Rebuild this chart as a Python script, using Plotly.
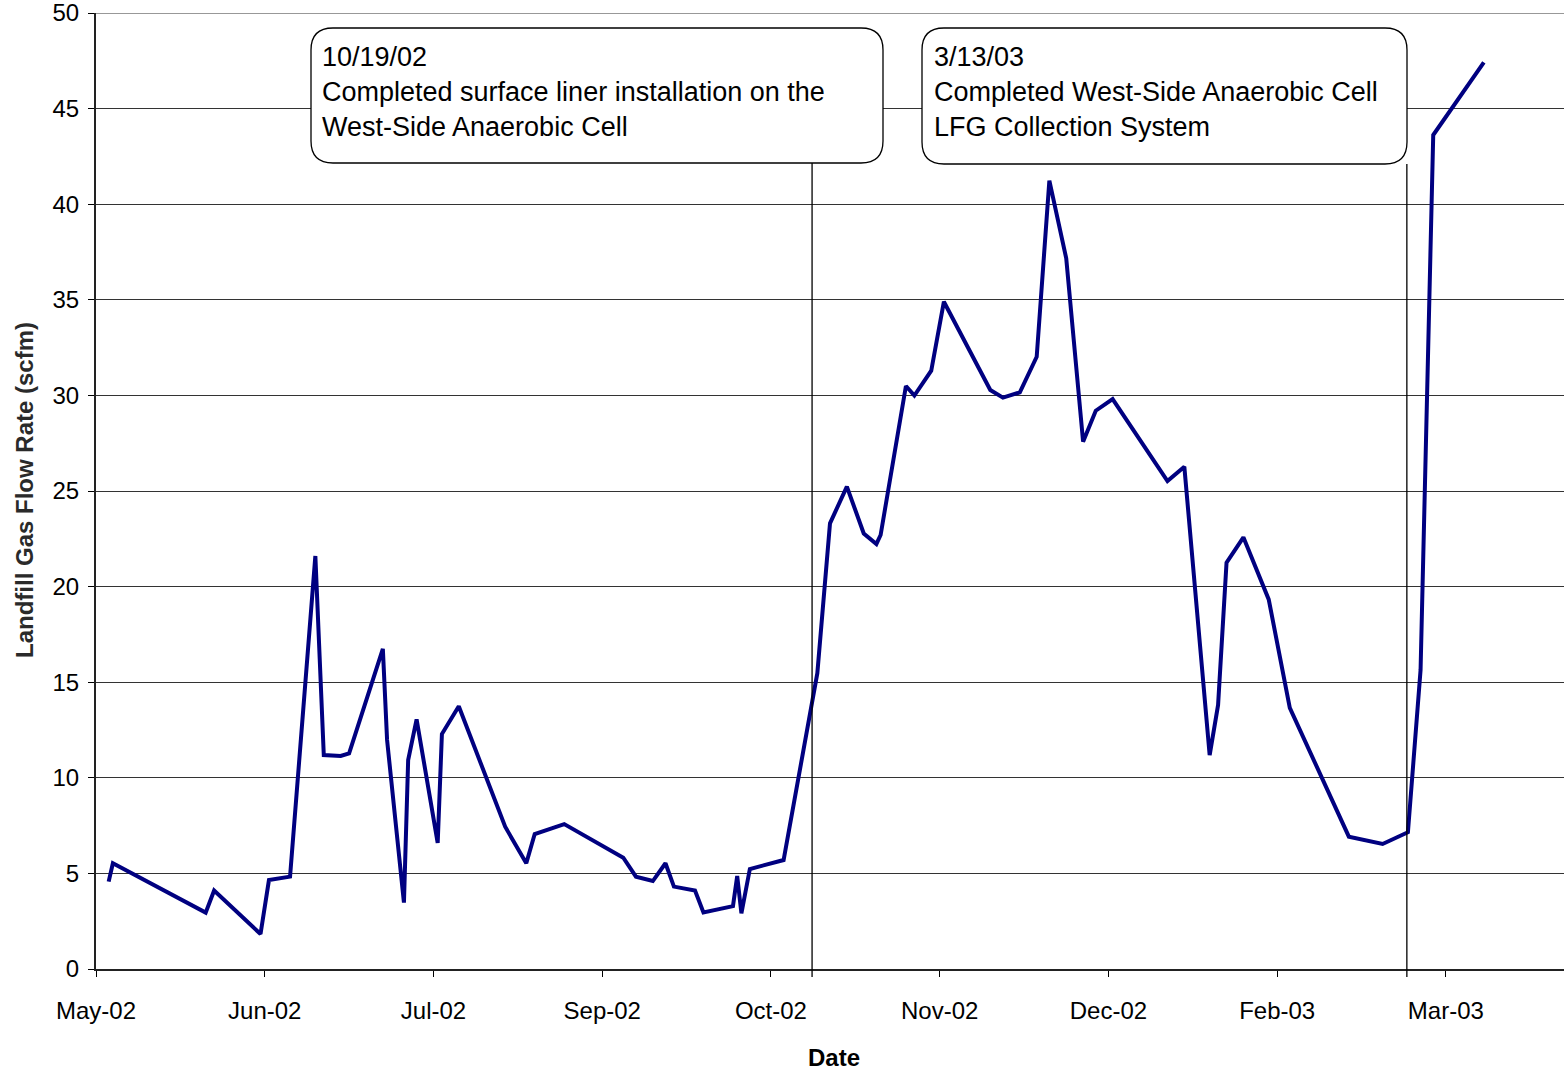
import plotly.graph_objects as go

# ---- data ----
dates = ["2002-05-07", "2002-05-08", "2002-05-30", "2002-06-01", "2002-06-12", "2002-06-14",
         "2002-06-19", "2002-06-25", "2002-06-27", "2002-07-01", "2002-07-03", "2002-07-11",
         "2002-07-12", "2002-07-16", "2002-07-17", "2002-07-19", "2002-07-24", "2002-07-25",
         "2002-07-29", "2002-08-09", "2002-08-14", "2002-08-16", "2002-08-23", "2002-09-06",
         "2002-09-09", "2002-09-13", "2002-09-16", "2002-09-18", "2002-09-23", "2002-09-25",
         "2002-10-02", "2002-10-03", "2002-10-04", "2002-10-06", "2002-10-14", "2002-10-22",
         "2002-10-25", "2002-10-29", "2002-11-02", "2002-11-05", "2002-11-06", "2002-11-12",
         "2002-11-14", "2002-11-18", "2002-11-21", "2002-11-28", "2002-12-02", "2002-12-05",
         "2002-12-09", "2002-12-13", "2002-12-16", "2002-12-20", "2002-12-24", "2002-12-27",
         "2002-12-31", "2003-01-13", "2003-01-17", "2003-01-23", "2003-01-25", "2003-01-27",
         "2003-01-31", "2003-02-06", "2003-02-11", "2003-02-25", "2003-03-05", "2003-03-11",
         "2003-03-14", "2003-03-17", "2003-03-29"]

flow_scfm = [4.57, 5.53, 2.95, 4.10, 1.83, 4.65, 4.83, 21.6, 11.19, 11.14, 11.28, 16.74,
             11.98, 3.47, 10.93, 13.06, 6.6, 12.29, 13.74, 7.44, 5.53, 7.06, 7.58, 5.82,
             4.83, 4.60, 5.53, 4.31, 4.10, 2.96, 3.29, 4.86, 2.91, 5.23, 5.70, 15.47,
             23.31, 25.23, 22.78, 22.23, 22.7, 30.49, 29.99, 31.29, 34.90, 31.89, 30.28, 29.88,
             30.16, 32.02, 41.23, 37.17, 27.58, 29.2, 29.81, 25.52, 26.27, 11.19, 13.81, 21.25,
             22.58, 19.33, 13.66, 6.92, 6.54, 7.15, 15.64, 43.62, 47.42]

event_dates = ["2002-10-20 18:00", "2003-03-10 18:00"]
event_texts = ["10/19/02<br>Completed surface liner installation on the<br>West-Side Anaerobic Cell",
               "3/13/03<br>Completed West-Side Anaerobic Cell<br>LFG Collection System"]

x_range = ["2002-05-04", "2003-04-17"]
x_tick0 = "2002-05-04"
x_dtick_days = 40
y_range = [0, 50]
y_dtick = 5

x_title = "Date"
y_title = "Landfill Gas Flow Rate (scfm)"

# ---- layout geometry (page pixels; body margin removed via post_script) ----
W, H = 1564, 1073
P_LEFT, P_TOP, P_RIGHT, P_BOTTOM = 96, 13, 1564, 969
ML, MT, MR, MB = P_LEFT, P_TOP, W - P_RIGHT, H - P_BOTTOM
PW, PH = P_RIGHT - P_LEFT, P_BOTTOM - P_TOP


def px(xp):
    return (xp - P_LEFT) / PW


def py(yp):
    return (P_BOTTOM - yp) / PH


FONT = "Liberation Sans, Arial, Helvetica, sans-serif"

fig = go.Figure()
fig.add_trace(go.Scatter(
    x=dates, y=flow_scfm, mode="lines",
    line=dict(color="#000080", width=4),
    showlegend=False, hoverinfo="x+y",
))

# callout boxes (rounded rectangles) in page pixel space
boxes = [(311, 28, 883, 163), (922, 28, 1407, 164)]
text_left = [320, 932]
R = 22


def rounded_path(x0, y0, x1, y1, r):
    X0, X1 = px(x0), px(x1)
    Y0, Y1 = py(y0), py(y1)  # Y0 top, Y1 bottom
    rx, ry = r / PW, r / PH
    return (f"M {X0+rx},{Y0} L {X1-rx},{Y0} Q {X1},{Y0} {X1},{Y0-ry} "
            f"L {X1},{Y1+ry} Q {X1},{Y1} {X1-rx},{Y1} "
            f"L {X0+rx},{Y1} Q {X0},{Y1} {X0},{Y1+ry} "
            f"L {X0},{Y0-ry} Q {X0},{Y0} {X0+rx},{Y0} Z")


shapes = [
    # top gridline at the axis maximum
    dict(type="line", xref="paper", yref="y", x0=0, x1=1, y0=y_range[1], y1=y_range[1],
         line=dict(color="#333333", width=1), layer="below"),
]
annotations = []
for i, (b, ed, et) in enumerate(zip(boxes, event_dates, event_texts)):
    shapes.append(dict(type="line", xref="x", yref="paper", x0=ed, x1=ed,
                       y0=-8 / PH, y1=py(b[3]), line=dict(color="black", width=1.3),
                       layer="above"))
    shapes.append(dict(type="path", xref="paper", yref="paper",
                       path=rounded_path(*b, R), fillcolor="white",
                       line=dict(color="black", width=1.3), layer="above"))
    annotations.append(dict(xref="paper", yref="paper", x=px(text_left[i]),
                            y=py((b[1] + b[3]) / 2 - 4),
                            xanchor="left", yanchor="middle", align="left", showarrow=False,
                            text=et, font=dict(family=FONT, size=27, color="black")))

# axis titles
annotations.append(dict(xref="paper", yref="paper", x=px(834), y=py(1057), xanchor="center",
                        yanchor="middle", showarrow=False, text="<b>%s</b>" % x_title,
                        font=dict(family=FONT, size=24, color="black")))
annotations.append(dict(xref="paper", yref="paper", x=px(24), y=py(490), xanchor="center",
                        yanchor="middle", showarrow=False, textangle=-90,
                        text="<b>%s</b>" % y_title,
                        font=dict(family=FONT, size=24, color="#2a2a2a")))

fig.update_layout(
    width=W, height=H,
    margin=dict(l=ML, r=MR, t=MT, b=MB, pad=0),
    paper_bgcolor="white", plot_bgcolor="white",
    font=dict(family=FONT, size=24, color="black"),
    shapes=shapes, annotations=annotations,
    xaxis=dict(
        type="date", range=x_range, tick0=x_tick0, dtick=x_dtick_days * 86400000,
        tickformat="%b-%y", showgrid=False, zeroline=False,
        showline=True, linecolor="#222222", linewidth=2,
        ticks="outside", ticklen=6, tickwidth=1, tickcolor="black",
        tickfont=dict(family=FONT, size=24, color="black"),
        ticklabelstandoff=13, ticklabeloverflow="allow",
    ),
    yaxis=dict(
        range=y_range, dtick=y_dtick, tick0=0,
        showgrid=True, gridcolor="#333333", gridwidth=1, zeroline=False,
        showline=True, linecolor="#222222", linewidth=2,
        ticks="outside", ticklen=6, tickwidth=1, tickcolor="black",
        tickfont=dict(family=FONT, size=24, color="black"),
        ticklabelstandoff=4, ticklabeloverflow="allow",
    ),
)

fig.write_html(
    "out.html",
    config={"displayModeBar": False},
    post_script="document.body.style.margin='0';document.body.style.padding='0';",
)
